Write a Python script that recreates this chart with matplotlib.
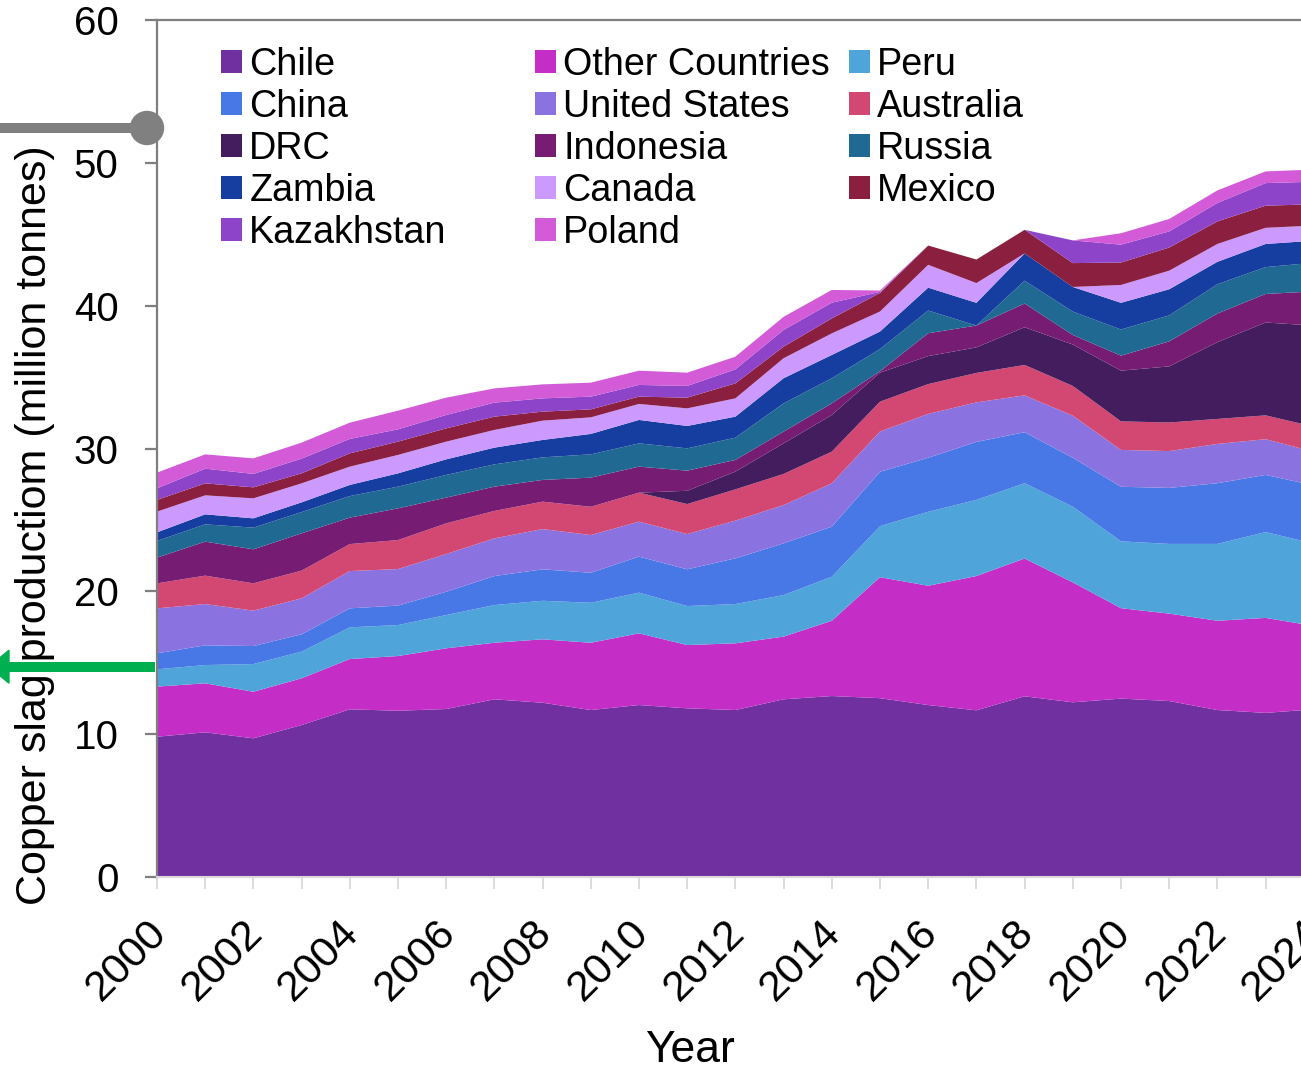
import numpy as np
import matplotlib.pyplot as plt
import matplotlib.transforms as mtrans
from matplotlib.lines import Line2D
from matplotlib.patches import Circle, Polygon

plt.rcParams['font.family'] = ['Liberation Sans', 'DejaVu Sans']

years = list(range(2000, 2025))

chile = [9.82, 10.13, 9.71, 10.64, 11.74, 11.64, 11.76, 12.44, 12.20, 11.69, 12.04, 11.81, 11.69,
         12.44, 12.67, 12.52, 12.04, 11.67, 12.65, 12.23, 12.49, 12.32, 11.69, 11.49, 11.74]
other = [3.51, 3.43, 3.26, 3.27, 3.52, 3.83, 4.25, 3.96, 4.44, 4.71, 5.02, 4.43, 4.67,
         4.39, 5.27, 8.47, 8.35, 9.40, 9.65, 8.40, 6.33, 6.12, 6.25, 6.65, 5.84]
peru = [1.21, 1.28, 1.94, 1.87, 2.22, 2.17, 2.33, 2.64, 2.70, 2.80, 2.85, 2.73, 2.75,
        2.91, 3.08, 3.57, 5.18, 5.33, 5.27, 5.30, 4.68, 4.88, 5.38, 6.01, 5.76]
china = [1.12, 1.38, 1.26, 1.21, 1.33, 1.36, 1.63, 2.03, 2.20, 2.10, 2.52, 2.57, 3.20,
         3.62, 3.51, 3.81, 3.78, 4.06, 3.57, 3.42, 3.82, 3.92, 4.25, 4.00, 4.08]
usa = [3.15, 2.89, 2.48, 2.52, 2.61, 2.56, 2.64, 2.64, 2.82, 2.64, 2.45, 2.47, 2.64,
       2.68, 3.03, 2.82, 3.07, 2.77, 2.58, 2.95, 2.58, 2.58, 2.75, 2.50, 2.35]
australia = [1.75, 1.99, 1.91, 1.94, 1.89, 2.03, 2.15, 1.92, 1.92, 1.98, 2.03, 2.10, 2.19,
             2.18, 2.22, 2.09, 2.09, 2.06, 2.13, 2.08, 2.00, 2.00, 1.75, 1.67, 1.76]
drc = [0, 0, 0, 0, 0, 0, 0, 0, 0, 0, 0, 0.93, 1.24,
       2.14, 2.57, 2.03, 1.96, 1.79, 2.64, 2.90, 3.55, 3.93, 5.38, 6.50, 7.08]
indonesia = [1.80, 2.38, 2.38, 2.61, 1.85, 2.22, 1.80, 1.70, 1.52, 2.04, 1.82, 1.41, 0.82,
             0.82, 0.81, 0.10, 1.60, 1.53, 1.66, 0.67, 1.05, 1.75, 2.00, 2.00, 2.39]
russia = [1.17, 1.21, 1.52, 1.49, 1.51, 1.52, 1.59, 1.56, 1.58, 1.63, 1.63, 1.56, 1.56,
          1.98, 1.76, 1.55, 1.59, 0, 1.60, 1.64, 1.83, 1.82, 2.05, 1.88, 2.01]
zambia = [0.60, 0.70, 0.65, 0.68, 0.78, 0.93, 1.09, 1.17, 1.22, 1.43, 1.64, 1.57, 1.47,
          1.76, 1.63, 1.23, 1.60, 1.59, 1.91, 1.72, 1.87, 1.83, 1.57, 1.62, 1.54]
canada = [1.45, 1.33, 1.40, 1.33, 1.28, 1.29, 1.24, 1.24, 1.35, 1.16, 1.12, 1.23, 1.28,
          1.40, 1.51, 1.40, 1.60, 1.38, 0, 0, 1.25, 1.30, 1.25, 1.13, 1.06]
mexico = [0.82, 0.84, 0.77, 0.70, 0.93, 0.93, 0.93, 0.93, 0.63, 0.56, 0.51, 0.75, 1.05,
          0.81, 1.05, 1.30, 1.35, 1.65, 1.65, 1.67, 1.57, 1.62, 1.58, 1.55, 1.49]
kazakhstan = [0.81, 1.03, 0.94, 1.03, 1.01, 0.86, 0.94, 0.98, 0.93, 0.89, 0.82, 0.82, 0.98,
              1.17, 1.10, 0.07, 0, 0, 0, 1.59, 1.25, 1.13, 1.29, 1.58, 1.58]
poland = [1.10, 1.00, 1.09, 1.12, 1.14, 1.31, 1.21, 1.00, 0.98, 0.98, 1.00, 0.93, 0.89,
          0.92, 0.89, 0.10, 0, 0, 0, 0, 0.80, 0.87, 0.88, 0.82, 0.85]

names = ['Chile', 'Other Countries', 'Peru', 'China', 'United States', 'Australia', 'DRC',
         'Indonesia', 'Russia', 'Zambia', 'Canada', 'Mexico', 'Kazakhstan', 'Poland']
series = [chile, other, peru, china, usa, australia, drc, indonesia, russia, zambia,
          canada, mexico, kazakhstan, poland]
colors = ['#7030A0', '#C42EC6', '#4FA5DA', '#4877E6', '#8A73E0', '#D34872', '#431D5E',
          '#761C72', '#206993', '#163EA0', '#CC99FF', '#8B1F40', '#8E44C8', '#D35BD8']

W, H = 1301, 1068
fig = plt.figure(figsize=(W / 100, H / 100), dpi=100)
ax = fig.add_axes([157 / W, (H - 877) / H, (1313.8 - 157) / W, (877 - 20) / H])

polys = ax.stackplot(years, *series, colors=colors, labels=names, linewidth=0)

ax.set_xlim(2000, 2024)
ax.set_ylim(0, 60)
ax.set_yticks(range(0, 61, 10))
ax.set_xticks(range(2000, 2025, 2))
ax.set_xticks(range(2001, 2024, 2), minor=True)

for s in ['left', 'top']:
    ax.spines[s].set_color('#7f7f7f')
    ax.spines[s].set_linewidth(1.6)
ax.spines['bottom'].set_color('#d9d9d9')
ax.spines['bottom'].set_linewidth(1.5)
ax.spines['right'].set_visible(False)

ax.tick_params(axis='y', length=8.6, width=1.6, color='#7f7f7f', pad=19, labelsize=29)
ax.tick_params(axis='x', which='both', length=8.6, width=1.3, color='#d9d9d9',
               labelsize=31, pad=17)

ax.set_xticklabels([str(y) for y in range(2000, 2025, 2)], rotation=45, ha='right',
                   rotation_mode='anchor')
# nudge the rotated year labels a bit to the left (after tick_params, which resets them)
shift = mtrans.ScaledTranslation(-11 / 100, 0, fig.dpi_scale_trans)
for lab in ax.get_xticklabels():
    lab.set_transform(lab.get_transform() + shift)

ax.set_ylabel('Copper slag productiom (million tonnes)', fontsize=31)
ax.yaxis.set_label_coords(-0.088, 0.411)
ax.set_xlabel('Year', fontsize=32)
ax.xaxis.set_label_coords(0.461, -0.178)

# legend in three fixed columns
cols = [([0, 3, 6, 9, 12], 221), ([1, 4, 7, 10, 13], 535), ([2, 5, 8, 11], 849)]
legs = []
for idx, xpos in cols:
    leg = ax.legend([polys[i] for i in idx], [names[i] for i in idx], loc='upper left',
                    bbox_to_anchor=(xpos / W, (H - 47) / H), bbox_transform=fig.transFigure,
                    frameon=False, fontsize=27.2, handlelength=0.55, handleheight=0.55,
                    handletextpad=0.2, labelspacing=0.16, borderpad=0, borderaxespad=0)
    legs.append(leg)
for leg in legs[:-1]:
    ax.add_artist(leg)

# marker line with dot on the left
fig.add_artist(Line2D([0, 147 / W], [(H - 128) / H] * 2, transform=fig.transFigure,
                      color='#808080', linewidth=7.2, solid_capstyle='butt'))
fig.add_artist(Circle((147, H - 128), 16.5, transform=None, color='#808080'))

# green arrow pointing left
ya = H - 666.7
fig.add_artist(Line2D([8 / W, 155 / W], [ya / H] * 2, transform=fig.transFigure,
                      color='#00B050', linewidth=7.2, solid_capstyle='butt'))
fig.add_artist(Polygon([[-11 / W, ya / H], [9 / W, (ya + 16.5) / H], [9 / W, (ya - 16.5) / H]],
                       closed=True, transform=fig.transFigure, color='#00B050'))

fig.savefig('out.png', dpi=100)
